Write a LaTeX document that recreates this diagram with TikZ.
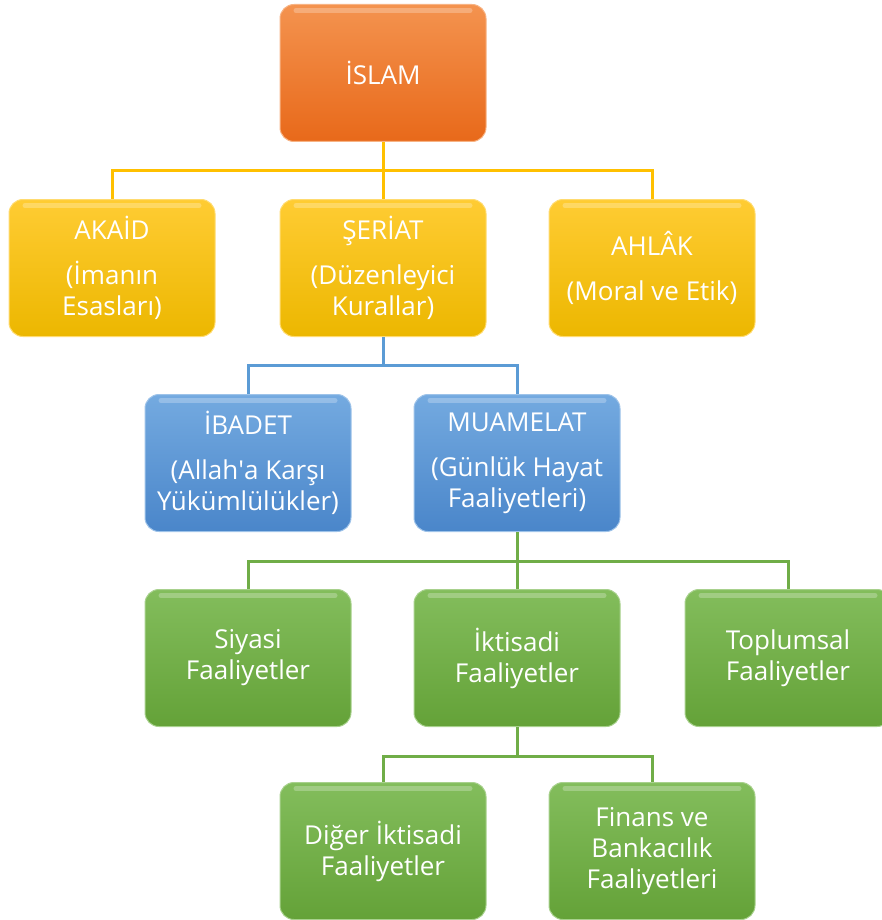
\documentclass[tikz,border=0pt]{standalone}
\usepackage{fontspec}
\setmainfont{Open Sans}
\usetikzlibrary{positioning}

\definecolor{orangetop}{HTML}{F4934F}
\definecolor{orangebot}{HTML}{E8691A}
\definecolor{yellowtop}{HTML}{FFCC33}
\definecolor{yellowbot}{HTML}{ECB700}
\definecolor{bluetop}{HTML}{74AAE0}
\definecolor{bluebot}{HTML}{4A86CA}
\definecolor{greentop}{HTML}{83BD5C}
\definecolor{greenbot}{HTML}{64A238}
\definecolor{yline}{HTML}{FFC000}
\definecolor{bline}{HTML}{5B9BD5}
\definecolor{gline}{HTML}{70AD47}

\begin{document}
\begin{tikzpicture}[
        x=1pt, y=-1pt,
        node distance=57pt and 64pt,
        box/.style={rectangle, rounded corners=14pt, minimum width=206pt, minimum height=137pt,
            text=white, align=center, font=\fontsize{26}{31}\selectfont, inner sep=0pt,
            path picture={\draw[white, opacity=0.25, line width=5pt, line cap=round]
                ([xshift=16pt,yshift=-6pt]path picture bounding box.north west) --
                ([xshift=-16pt,yshift=-6pt]path picture bounding box.north east);}},
        orangebox/.style={box, top color=orangetop, bottom color=orangebot, draw=orangetop!70!white, line width=1pt},
        yellowbox/.style={box, top color=yellowtop, bottom color=yellowbot, draw=yellowtop!70!white, line width=1pt},
        bluebox/.style={box, top color=bluetop, bottom color=bluebot, draw=bluetop!70!white, line width=1pt},
        greenbox/.style={box, top color=greentop, bottom color=greenbot, draw=greentop!70!white, line width=1pt},
        link/.style={draw, line width=3pt}
    ]
        \useasboundingbox (0,0) rectangle (882,920);

        % Level 1
        \node [orangebox] (islam) at (383,73) {İSLAM};

        % Level 2
        \node [yellowbox, below=of islam] (seriat) {ŞERİAT\\[14pt](Düzenleyici\\Kurallar)};
        \node [yellowbox, left=of seriat] (akaid) {AKAİD\\[14pt](İmanın\\Esasları)};
        \node [yellowbox, right=62pt of seriat] (ahlak) {AHLÂK\\[14pt](Moral ve Etik)};

        \path [link, yline] (islam.south) -- ++(0,29) coordinate (bus1) -- (seriat.north);
        \path [link, yline] (bus1) -| (akaid.north);
        \path [link, yline] (bus1) -| (ahlak.north);

        % Level 3
        \node [bluebox, below=of seriat, xshift=134pt] (muamelat) {MUAMELAT\\[14pt](Günlük Hayat\\Faaliyetleri)};
        \node [bluebox, left=62pt of muamelat] (ibadet) {İBADET\\[14pt](Allah\textquotesingle a Karşı\\Yükümlülükler)};

        \path [link, bline] (seriat.south) -- ++(0,28) coordinate (bus2) -| (ibadet.north);
        \path [link, bline] (bus2) -| (muamelat.north);

        % Level 4
        \node [greenbox, below=of ibadet] (siyasi) {Siyasi\\Faaliyetler};
        \node [greenbox, below=of muamelat] (iktisadi) {İktisadi\\Faaliyetler};
        \node [greenbox, right=of iktisadi] (toplumsal) {Toplumsal\\Faaliyetler};

        \path [link, gline] (muamelat.south) -- ++(0,29) coordinate (bus3) -- (iktisadi.north);
        \path [link, gline] (bus3) -| (siyasi.north);
        \path [link, gline] (bus3) -| (toplumsal.north);

        % Level 5
        \node [greenbox, below=55pt of iktisadi, xshift=-134pt] (diger) {Diğer İktisadi\\Faaliyetler};
        \node [greenbox, right=62pt of diger] (finans) {Finans ve\\Bankacılık\\Faaliyetleri};

        \path [link, gline] (iktisadi.south) -- ++(0,29) coordinate (bus4) -| (diger.north);
        \path [link, gline] (bus4) -| (finans.north);

    \end{tikzpicture}
\end{document}
